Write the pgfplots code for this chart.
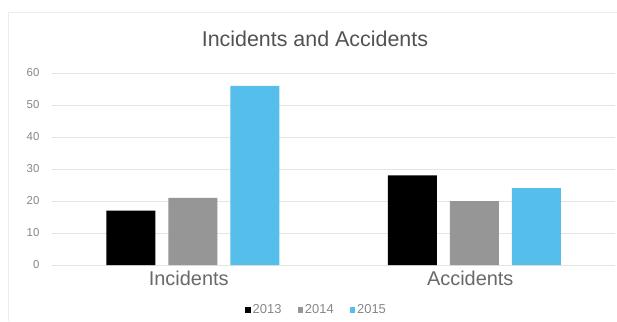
\documentclass[border=0pt]{standalone}
\usepackage{fontspec}
\setmainfont{Liberation Sans}
\usepackage{pgfplots}
\pgfplotsset{compat=1.18}
\definecolor{cblue}{RGB}{86,190,235}
\definecolor{cgray}{RGB}{150,150,150}
\definecolor{gridc}{RGB}{228,228,228}
\definecolor{tickc}{RGB}{135,135,135}
\definecolor{labc}{RGB}{105,105,105}
\begin{document}
\begin{tikzpicture}[x=1bp,y=1bp]
\path[use as bounding box] (0,0) rectangle (617,321);
\fill[white] (0,0) rectangle (617,321);
\draw[gridc!70!white, line width=1bp] (8,0) -- (8,308) -- (617,308);
\begin{axis}[
  at={(52bp,56bp)}, anchor=south west,
  scale only axis, width=563bp, height=192bp,
  ybar=13bp, bar width=49bp,
  xmin=-0.5, xmax=1.5, ymin=0, ymax=60,
  xtick={0,1}, xticklabels={Incidents,Accidents},
  ytick={0,10,...,60},
  axis line style={draw=none},
  major tick length=0pt,
  ymajorgrids, grid style={gridc, line width=0.8bp},
  yticklabel style={font=\fontsize{11.5}{12}\selectfont, text=tickc, xshift=-9bp},
  xticklabel style={font=\fontsize{20}{22}\selectfont, text=labc, yshift=-3bp, xshift=-4bp},
  title={Incidents and Accidents},
  title style={font=\fontsize{21.5}{24}\selectfont, text=black!68, at={(0.467,1)}, yshift=17bp},
  legend style={at={(0.47,-0.185)}, anchor=north, draw=none, fill=none,
    font=\fontsize{13}{14}\selectfont, text=tickc, legend columns=3,
    /tikz/every even column/.append style={column sep=14bp},
    /tikz/every odd column/.append style={column sep=0bp}},
  legend image code/.code={\fill[#1] (2bp,-2.7bp) rectangle (7.4bp,2.7bp);},
  legend cell align=left,
  /pgf/number format/assume math mode=true,
]
\addplot[fill=black, draw=none] coordinates {(0,17) (1,28)};
\addplot[fill=cgray, draw=none] coordinates {(0,21) (1,20)};
\addplot[fill=cblue, draw=none] coordinates {(0,56) (1,24)};
\legend{2013,2014,2015}
\end{axis}
\end{tikzpicture}
\end{document}
